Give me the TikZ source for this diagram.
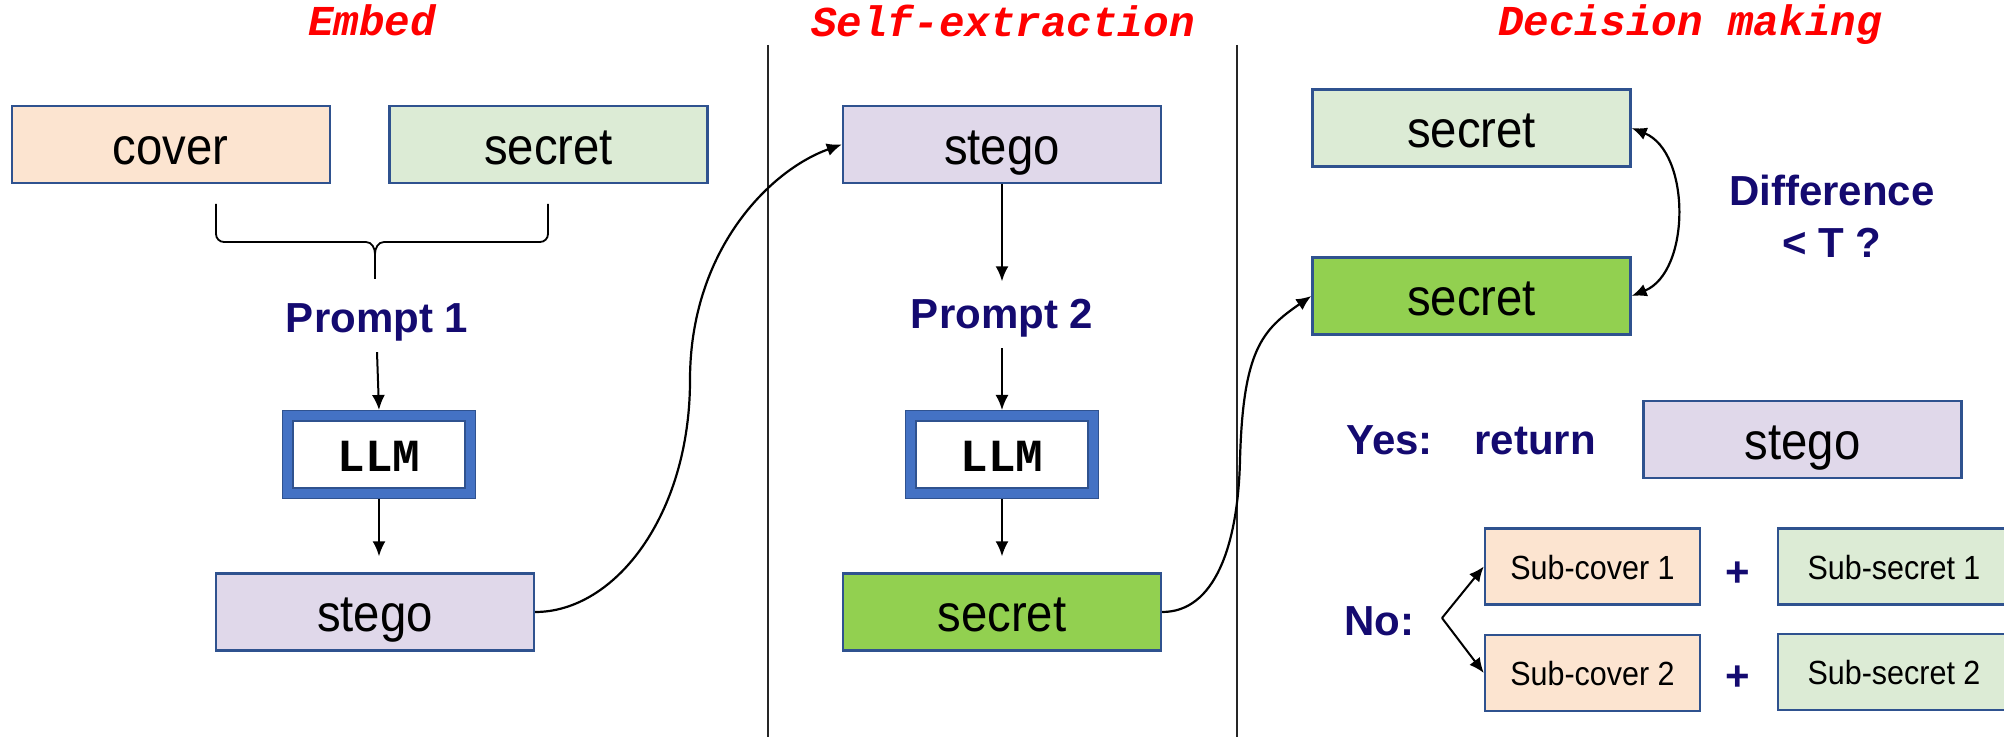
\documentclass[tikz,border=0pt]{standalone}
\usepackage{fontspec}
\setmainfont{Liberation Sans}
\newfontfamily\boxfont[FakeStretch=0.91]{Liberation Sans}
\newfontfamily\titlefont{Liberation Mono}
\usetikzlibrary{arrows.meta}
\definecolor{coverfill}{HTML}{FCE4D0}
\definecolor{secretfill}{HTML}{DCEBD5}
\definecolor{stegofill}{HTML}{E0D8EA}
\definecolor{greenfill}{HTML}{92D050}
\definecolor{boxline}{HTML}{2F528F}
\definecolor{llmblue}{HTML}{4472C4}
\definecolor{navy}{HTML}{140A70}
\definecolor{titlered}{HTML}{FF0000}
\begin{document}
\begin{tikzpicture}[x=0.5pt,y=-0.5pt,
  bigbox/.style={draw=boxline, line width=1.2pt, minimum width=159pt, minimum height=38.5pt, inner sep=0pt,
    font=\boxfont\fontsize{26}{30}\selectfont, text height=25pt, text depth=5pt},
  subbox/.style={draw=boxline, line width=1.2pt, minimum width=107.5pt, minimum height=38pt, inner sep=0pt,
    font=\boxfont\fontsize{16.75}{20}\selectfont, text height=16pt, text depth=3.4pt},
  llmbox/.style={draw=boxline, fill=white, line width=5.8pt, minimum width=91.2pt, minimum height=38.7pt, inner sep=0pt,
    font=\titlefont\bfseries\fontsize{23}{26}\selectfont, text height=17pt, text depth=0pt,
    postaction={draw=llmblue, line width=4.4pt}},
  title/.style={font=\titlefont\bfseries\itshape\fontsize{21.3}{24}\selectfont, text=titlered, anchor=base, inner sep=0pt},
  lab/.style={font=\bfseries\fontsize{21}{26}\selectfont, text=navy, inner sep=5pt},
  arr/.style={-{Latex[length=7.5pt,width=6.5pt]}, line width=1pt},
  curvearr/.style={-{Latex[length=7.5pt,width=6.5pt]}, line width=1.1pt},
  dblarr/.style={{Latex[length=7.5pt,width=6.5pt]}-{Latex[length=7.5pt,width=6.5pt]}, line width=1.1pt},
  sepline/.style={line width=0.8pt, black!85},
  bracestyle/.style={line width=0.9pt}
]
\useasboundingbox (0,0) rectangle (2004,737);

% titles
\node[title] (t1) at (372,36) {Embed};
\node[title] (t2) at (1003,37) {Self-extraction};
\node[title] (t3) at (1690,36) {Decision making};

% separators
\draw[sepline] (768,45) -- (768,737);
\draw[sepline] (1237,45) -- (1237,737);

% ---- Embed column
\node[bigbox, fill=coverfill] (cover) at (170.75,144.5) {cover};
\node[bigbox, fill=secretfill] (secret) at (548.5,144.5) {secret};
\coordinate (brtip) at (375,279);
\draw[bracestyle] (216,204) -- (216,234) to[out=-90,in=180] (224,242) -- (366,242) to[out=0,in=90] (375,254) -- (brtip);
\draw[bracestyle] (548,204) -- (548,234) to[out=-90,in=0] (540,242) -- (384,242) to[out=180,in=90] (375,254);
\node[lab, anchor=base] (p1) at (377,333) {Prompt 1};
\node[llmbox] (llm1) at (379,454.5) {LLM};
\node[bigbox, fill=stegofill] (stego) at (375,612) {stego};
\draw[arr] (p1.south) -- (llm1.north);
\draw[arr, shorten >=8pt] (llm1.south) -- (llm1.south |- stego.north);

% ---- Self-extraction column
\node[bigbox, fill=stegofill] (stego2) at (1002,144.5) {stego};
\node[lab, anchor=base] (p2) at (1002,329) {Prompt 2};
\node[llmbox] (llm2) at (1002,454.5) {LLM};
\node[bigbox, fill=greenfill] (secretB) at (1002,612) {secret};
\draw[arr, shorten >=4pt] (stego2.south) -- (p2.north);
\draw[arr] (p2.south) -- (llm2.north);
\draw[arr, shorten >=8pt] (llm2.south) -- (secretB.north);

% ---- Decision column
\node[bigbox, fill=secretfill] (secD1) at (1471.5,128) {secret};
\node[bigbox, fill=greenfill] (secD2) at (1471.5,296) {secret};
\draw[dblarr] (secD1.east) .. controls (1691,152) and (1691,272) .. (secD2.east);
\node[lab, align=center, inner sep=0pt] (diff) at (1832,216) {Difference\\< T ?};
\node[lab, anchor=base west, inner sep=0pt] (yes) at (1346,455) {Yes:\hspace{13pt} return};
\node[bigbox, fill=stegofill] (stegoD) at (1802.5,439.5) {stego};
\node[lab, anchor=base west, inner sep=0pt] (no) at (1344,635) {No:};
\coordinate (branch) at (1442,618);
\node[subbox, fill=coverfill] (subc1) at (1592.5,566.5) {Sub-cover 1};
\node[subbox, fill=coverfill] (subc2) at (1592.5,673) {Sub-cover 2};
\node[lab, inner sep=0pt] (plus1) at (1738,574) {+};
\node[lab, inner sep=0pt] (plus2) at (1738,678) {+};
\node[subbox, fill=secretfill, minimum width=116pt] (subs1) at (1894,566.5) {Sub-secret 1};
\node[subbox, fill=secretfill, minimum width=116pt] (subs2) at (1894,672) {Sub-secret 2};
\draw[arr] (branch) -- (subc1.west);
\draw[arr] (branch) -- (subc2.west);

% ---- long curved connectors
\coordinate (m1) at (690,380);
\draw[curvearr] (stego.east) .. controls (615,612) and (690,515) .. (m1) .. controls (690,250) and (770,170) .. (stego2.west);
\coordinate (m2) at (1240,460);
\draw[curvearr] (secretB.east) .. controls (1215,612) and (1238,545) .. (m2) .. controls (1243,350) and (1262,330) .. (secD2.west);
\end{tikzpicture}
\end{document}
